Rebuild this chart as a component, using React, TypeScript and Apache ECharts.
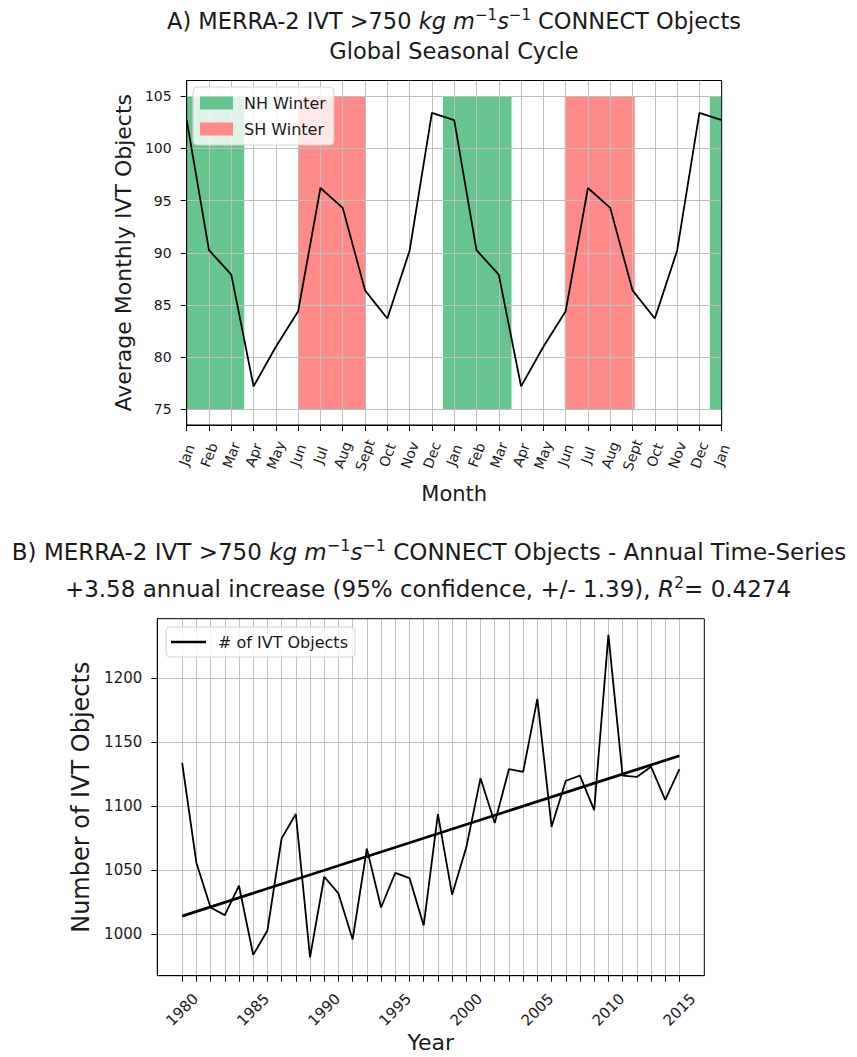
import React, { useEffect, useRef } from 'react';
import * as echarts from 'echarts';

// ---------- data ----------
const monthNames = ['Jan', 'Feb', 'Mar', 'Apr', 'May', 'Jun', 'Jul', 'Aug', 'Sept', 'Oct', 'Nov', 'Dec'];
// Average monthly IVT objects (one cycle, repeated twice in the panel)
const monthlyMean = [102.7, 90.25, 87.9, 77.2, 81.0, 84.4, 96.2, 94.3, 86.4, 83.7, 90.2, 103.4];
// Tick labels for positions 0..24 (Jan .. Dec, Jan .. Dec, Jan)
const monthTickLabels = [
  'Jan', 'Feb', 'Mar', 'Apr', 'May', 'Jun', 'Jul', 'Aug', 'Sept', 'Oct', 'Nov', 'Dec',
  'Jan', 'Feb', 'Mar', 'Apr', 'May', 'Jun', 'Jul', 'Aug', 'Sept', 'Oct', 'Nov', 'Dec',
  'Jan',
];
const nhWinterSpans = [[0, 2.58], [11.5, 14.57], [23.47, 24]];
const shWinterSpans = [[5.0, 8.0], [16.96, 20.1]];
const shadeRange = [75, 105];
const seasonalTicks = [75, 80, 85, 90, 95, 100, 105];

const years = [
  1980, 1981, 1982, 1983, 1984, 1985, 1986, 1987, 1988, 1989,
  1990, 1991, 1992, 1993, 1994, 1995, 1996, 1997, 1998, 1999,
  2000, 2001, 2002, 2003, 2004, 2005, 2006, 2007, 2008, 2009,
  2010, 2011, 2012, 2013, 2014, 2015,
];
const ivtCounts = [
  1134, 1056, 1021, 1015, 1038, 984, 1003, 1075, 1094, 982,
  1045, 1032, 996, 1067, 1021, 1048, 1044, 1007, 1094, 1031,
  1068, 1122, 1087, 1129, 1127, 1184, 1084, 1120, 1124, 1097,
  1234, 1124, 1123, 1131, 1105, 1129,
];
const trendYears = [1980, 2015];
const trendValues = [1014.3, 1139.5];
const yearLabelTicks = [1980, 1985, 1990, 1995, 2000, 2005, 2010, 2015];
const countTicks = [1000, 1050, 1100, 1150, 1200];

// ---------- style ----------
const FONT = 'DejaVu Sans';
const TXT = '#1a1a1a';
const GREEN = '#66c48e';
const RED = '#ff8a8a';
const GRIDC = '#bfbfbf';

const makeRich = (size: number, supSize: number, lh: number) => ({
  n: { fontSize: size, fontFamily: FONT, color: TXT, fontWeight: 'normal', lineHeight: lh },
  i: { fontSize: size, fontFamily: FONT, color: TXT, fontWeight: 'normal', fontStyle: 'italic', lineHeight: lh },
  s: { fontSize: supSize, fontFamily: FONT, color: TXT, fontWeight: 'normal', lineHeight: 13, verticalAlign: 'top' },
});

function buildOption() {
  const seasonalData = monthTickLabels.map((_, i) => [i, monthlyMean[i % 12]]);
  const annualData = years.map((y, i) => [y, ivtCounts[i]]);
  const trendData = trendYears.map((y, i) => [y, trendValues[i]]);
  const toArea = (spans: number[][]) =>
    spans.map(([a, b]) => [
      { xAxis: a, yAxis: shadeRange[0] },
      { xAxis: b, yAxis: shadeRange[1] },
    ]);

  const axisCommon = {
    z: 3,
    axisLine: { show: true, lineStyle: { color: '#000', width: 1 } },
    axisTick: { show: true, inside: false, length: 6, lineStyle: { color: '#000', width: 1 } },
    splitLine: { show: true, lineStyle: { color: GRIDC, width: 1 } },
    nameLocation: 'middle',
  };
  const titleBase = { textAlign: 'center', padding: 0 };

  return {
    animation: false,
    backgroundColor: '#fff',
    textStyle: { fontFamily: FONT, color: TXT },
    title: [
      {
        ...titleBase,
        text: '{n|A) MERRA-2 IVT >750 }{i|kg m}{s|−1}{i|s}{s|−1}{n| CONNECT Objects}',
        left: 454, top: 7,
        textStyle: { fontWeight: 'normal', rich: makeRich(22.5, 15, 28) },
      },
      {
        ...titleBase,
        text: 'Global Seasonal Cycle',
        left: 454, top: 39,
        textStyle: { fontSize: 22.5, fontWeight: 'normal', fontFamily: FONT, color: TXT },
      },
      {
        ...titleBase,
        text: '{n|B) MERRA-2 IVT >750 }{i|kg m}{s|−1}{i|s}{s|−1}{n| CONNECT Objects - Annual Time-Series}',
        left: 429, top: 537,
        textStyle: { fontWeight: 'normal', rich: makeRich(23, 16, 29) },
      },
      {
        ...titleBase,
        text: '{n|+3.58 annual increase (95% confidence, +/- 1.39), }{i|R}{s|2}{n|= 0.4274}',
        left: 428, top: 574,
        textStyle: { fontWeight: 'normal', rich: makeRich(23, 16, 29) },
      },
    ],
    legend: [
      {
        data: [{ name: 'NH Winter' }, { name: 'SH Winter' }],
        left: 193, top: 87, orient: 'vertical', icon: 'rect',
        itemWidth: 33, itemHeight: 13, itemGap: 10,
        textStyle: { fontSize: 16, fontFamily: FONT, color: TXT, padding: [0, 0, 0, 6] },
        backgroundColor: 'rgba(255,255,255,0.8)', borderColor: '#d4d4d4', borderWidth: 1, borderRadius: 4,
        padding: [8, 8, 8, 7], z: 10,
      },
      {
        data: [{ name: '# of IVT Objects', icon: 'rect', itemStyle: { color: '#000' } }],
        left: 166, top: 627,
        itemWidth: 35, itemHeight: 2.5,
        textStyle: { fontSize: 16, fontFamily: FONT, color: TXT, padding: [0, 0, 0, 7] },
        backgroundColor: 'rgba(255,255,255,0.8)', borderColor: '#d4d4d4', borderWidth: 1, borderRadius: 4,
        padding: [7, 7, 7, 5], z: 10,
      },
    ],
    grid: [
      { left: 186.7, top: 80.5, width: 535, height: 344.5, show: true, borderColor: '#000', borderWidth: 1, z: 4 },
      { left: 157.3, top: 618.7, width: 547, height: 357, show: true, borderColor: '#000', borderWidth: 1, z: 4 },
    ],
    xAxis: [
      {
        ...axisCommon,
        type: 'value', gridIndex: 0, min: 0, max: 24, interval: 1,
        axisLabel: {
          rotate: 70, align: 'center', verticalAlign: 'middle', margin: 30,
          fontSize: 14, fontFamily: FONT, color: TXT,
          formatter: (v: number) => monthTickLabels[Math.round(v)] ?? '',
        },
        name: 'Month', nameGap: 58,
        nameTextStyle: { fontSize: 21, fontFamily: FONT, color: TXT },
      },
      {
        ...axisCommon,
        type: 'value', gridIndex: 1, min: 1978.25, max: 2016.75, interval: 1,
        axisTick: { ...axisCommon.axisTick, customValues: years },
        axisLabel: {
          customValues: yearLabelTicks,
          rotate: 45, align: 'center', verticalAlign: 'middle', margin: 34,
          fontSize: 15, fontFamily: FONT, color: TXT,
          formatter: (v: number) => String(v),
        },
        name: 'Year', nameGap: 56,
        nameTextStyle: { fontSize: 22, fontFamily: FONT, color: TXT },
      },
    ],
    yAxis: [
      {
        ...axisCommon,
        type: 'value', gridIndex: 0, min: 73.5, max: 106.5,
        axisTick: { ...axisCommon.axisTick, customValues: seasonalTicks },
        axisLabel: {
          customValues: seasonalTicks, margin: 15, fontSize: 14, fontFamily: FONT, color: TXT,
          formatter: (v: number) => String(v),
        },
        name: 'Average Monthly IVT Objects', nameGap: 50,
        nameTextStyle: { fontSize: 22, fontFamily: FONT, color: TXT },
      },
      {
        ...axisCommon,
        type: 'value', gridIndex: 1, min: 967.7, max: 1246.6,
        axisTick: { ...axisCommon.axisTick, customValues: countTicks },
        axisLabel: {
          customValues: countTicks, margin: 15, fontSize: 15, fontFamily: FONT, color: TXT,
          formatter: (v: number) => String(v),
        },
        name: 'Number of IVT Objects', nameGap: 56,
        nameTextStyle: { fontSize: 24, fontFamily: FONT, color: TXT },
      },
    ],
    series: [
      {
        type: 'line', name: 'NH Winter', xAxisIndex: 0, yAxisIndex: 0, data: [],
        itemStyle: { color: GREEN }, lineStyle: { color: GREEN }, z: 1,
        markArea: { silent: true, itemStyle: { color: GREEN, opacity: 1 }, data: toArea(nhWinterSpans) },
      },
      {
        type: 'line', name: 'SH Winter', xAxisIndex: 0, yAxisIndex: 0, data: [],
        itemStyle: { color: RED }, lineStyle: { color: RED }, z: 1,
        markArea: { silent: true, itemStyle: { color: RED, opacity: 1 }, data: toArea(shWinterSpans) },
      },
      {
        type: 'line', name: 'Seasonal Cycle', xAxisIndex: 0, yAxisIndex: 0, data: seasonalData,
        symbol: 'none', itemStyle: { color: '#000' }, lineStyle: { color: '#000', width: 1.8 }, z: 5,
      },
      {
        type: 'line', name: '# of IVT Objects', xAxisIndex: 1, yAxisIndex: 1, data: annualData,
        symbol: 'none', itemStyle: { color: '#000' }, lineStyle: { color: '#000', width: 1.8 }, z: 5,
      },
      {
        type: 'line', name: 'Trend', xAxisIndex: 1, yAxisIndex: 1, data: trendData,
        symbol: 'none', itemStyle: { color: '#000' }, lineStyle: { color: '#000', width: 2.8 }, z: 6,
      },
    ],
  };
}

export default function App() {
  const ref = useRef<HTMLDivElement>(null);
  useEffect(() => {
    document.body.style.margin = '0';
    const chart = echarts.init(ref.current as HTMLDivElement, null, { renderer: 'svg' });
    chart.setOption(buildOption() as any);
    return () => chart.dispose();
  }, []);
  return <div ref={ref} style={{ width: 857, height: 1057 }} />;
}
